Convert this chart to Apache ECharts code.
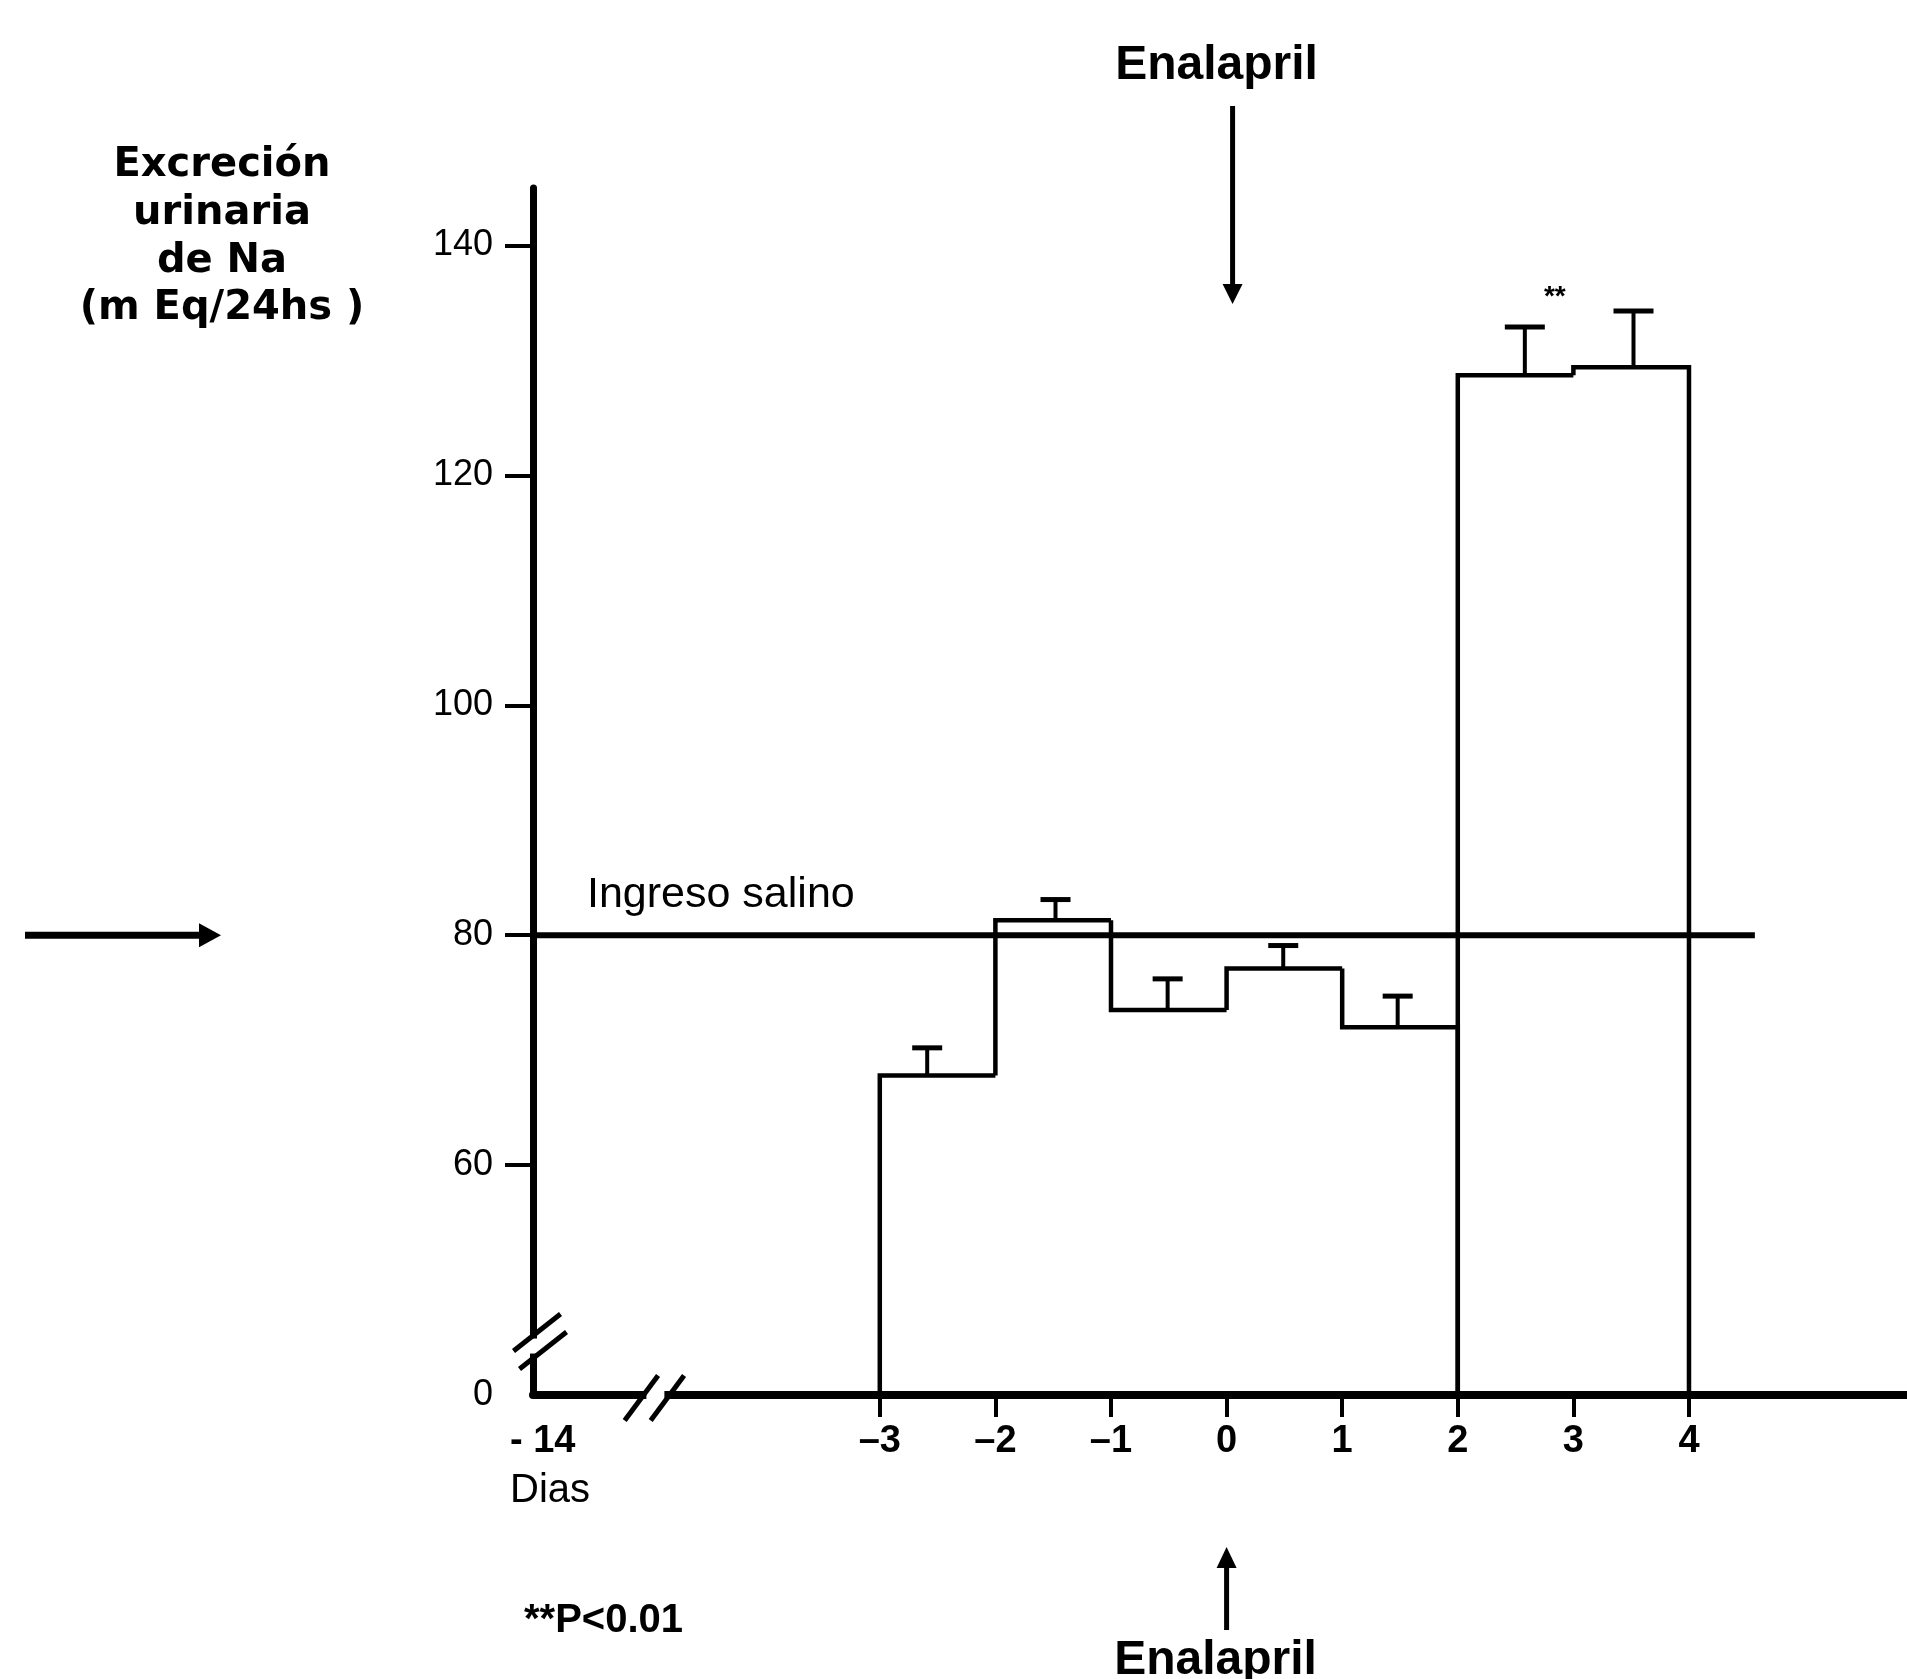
<!DOCTYPE html>
<html>
<head>
<meta charset="utf-8">
<script src="https://cdn.jsdelivr.net/npm/echarts@6/dist/echarts.min.js"></script>
<style>
html,body{margin:0;padding:0;background:#fff;}
#chart{width:1907px;height:1679px;}
</style>
</head>
<body>
<div id="chart"></div>
<script>
// ---------------- DATA ----------------
// Days (intervals) of the 24 h collections
const diaInicio = [-3, -2, -1, 0, 1, 2, 3];
const diaFin    = [-2, -1, 0, 1, 2, 3, 4];
// Urinary Na excretion (mEq/24 h) and its standard error
const excrecionNa = [67.8, 81.3, 73.5, 77.1, 72.0, 128.7, 129.4];
const errorEst    = [2.4, 1.8, 2.7, 2.0, 2.7, 4.2, 4.9];
// Day position at which each error bar is drawn
const errorPosX   = [-2.59, -1.48, -0.51, 0.49, 1.48, 2.58, 3.52];
// true = first day of a new period (pre / post enalapril)
const nuevoBloque = [true, false, false, false, false, true, false];
const significancia = ['', '', '', '', '', '**', ''];
// Salt intake reference line
const ingresoSalino = 80;
const ingresoSalinoRango = [-6, 4.57];
// Axis ticks / labels (axes are broken: plotted -6 = day -14, plotted 40 = 0 mEq)
const xTickValues  = [-3, -2, -1, 0, 1, 2, 3, 4];
const xLabelValues = [-6, -3, -2, -1, 0, 1, 2, 3, 4];
const xLabelTexts  = ['- 14', '–3', '–2', '–1', '0', '1', '2', '3', '4'];
const yTickValues  = [60, 80, 100, 120, 140];
const yLabelValues = [40, 60, 80, 100, 120, 140];
const yLabelTexts  = ['0', '60', '80', '100', '120', '140'];
const yTitulo = ['Excreción', 'urinaria', 'de Na', '(m Eq/24hs )'];
const notaP = '**P<0.01';
const flechaTexto = 'Enalapril';
const diaEnalapril = 0;
const breakY = 44.65;
const breakX = -4.95;

// ---------------- AXES ----------------
const X_MIN = -6, X_MAX = 5.886, Y_MIN = 40, Y_MAX = 145;
const FONT = '"Liberation Sans", Arial, sans-serif';
const BLACK = '#000';

function seg(x1, y1, x2, y2, w) {
  return { type: 'line', shape: { x1, y1, x2, y2 }, style: { stroke: BLACK, lineWidth: w, lineCap: 'butt' } };
}
function txt(text, x, y, size, weight, align, family) {
  return { type: 'text', style: { text, x, y, fill: BLACK, fontSize: size, fontWeight: weight,
    fontFamily: family || FONT, align: align || 'center', verticalAlign: 'middle' } };
}

const barData = diaInicio.map((d, i) => [d, diaFin[i], excrecionNa[i], errorEst[i], errorPosX[i]]);

function renderBar(params, api) {
  const i = params.dataIndex;
  const n = excrecionNa.length;
  const x0 = api.value(0), x1 = api.value(1), v = api.value(2), e = api.value(3), ex = api.value(4);
  const pL = api.coord([x0, v]);
  const pR = api.coord([x1, v]);
  const baseY = api.coord([x0, Y_MIN])[1];
  const startY = nuevoBloque[i] ? baseY : api.coord([x0, excrecionNa[i - 1]])[1];
  const last = (i === n - 1) || nuevoBloque[i + 1];
  const pts = [[pL[0], startY], pL, pR];
  if (last) pts.push([pR[0], baseY]);
  const children = [{
    type: 'polyline', shape: { points: pts },
    style: { stroke: BLACK, lineWidth: 4.5, fill: null, lineJoin: 'miter' }
  }];
  let periodo = 0;
  for (let k = 1; k <= i; k++) if (nuevoBloque[k]) periodo++;
  const half = periodo > 0 ? 20 : 15;
  const e0 = api.coord([ex, v]);
  const e1 = api.coord([ex, v + e]);
  children.push(seg(e0[0], e0[1], e1[0], e1[1], 4));
  children.push(seg(e1[0] - half, e1[1], e1[0] + half, e1[1], 5));
  if (significancia[i]) {
    children.push(txt(significancia[i], e1[0] + 30, e1[1] - 30, 28, 'bold'));
  }
  return { type: 'group', children };
}

function renderIngreso(params, api) {
  const a = api.coord([api.value(0), api.value(2)]);
  const b = api.coord([api.value(1), api.value(2)]);
  return { type: 'group', children: [
    seg(a[0], a[1], b[0], b[1], 6),
    txt('Ingreso salino', a[0] + 54, a[1] - 40, 43, 'normal', 'left')
  ]};
}

function renderDecor(params, api) {
  const top = api.coord([diaEnalapril, Y_MAX]);
  const base = api.coord([diaEnalapril, Y_MIN]);
  const org = api.coord([X_MIN, Y_MIN]);
  const yb = api.coord([X_MIN, breakY]);
  const xb = api.coord([breakX, Y_MIN]);
  const a80 = api.coord([X_MIN, ingresoSalino]);
  const ch = [];
  // y-axis break
  ch.push({ type: 'rect', shape: { x: yb[0] - 7, y: yb[1] - 3, width: 14, height: 15 }, style: { fill: '#fff' } });
  ch.push(seg(yb[0] + 4 - 23.5, yb[1] - 9 + 18.5, yb[0] + 4 + 23.5, yb[1] - 9 - 18.5, 5));
  ch.push(seg(yb[0] + 10 - 23.5, yb[1] + 9 + 18.5, yb[0] + 10 + 23.5, yb[1] + 9 - 18.5, 5));
  // x-axis break
  ch.push({ type: 'rect', shape: { x: xb[0] - 8, y: xb[1] - 6, width: 18, height: 12 }, style: { fill: '#fff' } });
  ch.push(seg(xb[0] - 13 - 16.7, xb[1] + 3 + 22.5, xb[0] - 13 + 16.7, xb[1] + 3 - 22.5, 5));
  ch.push(seg(xb[0] + 13 - 16.7, xb[1] + 3 + 22.5, xb[0] + 13 + 16.7, xb[1] + 3 - 22.5, 5));
  // top Enalapril arrow
  const tx = top[0] + 6;
  ch.push(seg(tx, top[1] - 82, tx, top[1] + 100, 5));
  ch.push({ type: 'polygon', shape: { points: [[tx - 10, top[1] + 96], [tx + 10, top[1] + 96], [tx, top[1] + 116]] }, style: { fill: BLACK } });
  ch.push(txt(flechaTexto, top[0] - 10, top[1] - 122, 48, 'bold'));
  // bottom Enalapril arrow
  const bx = base[0];
  ch.push(seg(bx, base[1] + 166, bx, base[1] + 235, 5));
  ch.push({ type: 'polygon', shape: { points: [[bx - 10, base[1] + 173], [bx + 10, base[1] + 173], [bx, base[1] + 152]] }, style: { fill: BLACK } });
  ch.push(txt(flechaTexto, bx - 11, base[1] + 265.4, 48, 'bold'));
  // left arrow at salt intake level
  ch.push(seg(a80[0] - 508, a80[1], a80[0] - 328, a80[1], 7));
  ch.push({ type: 'polygon', shape: { points: [[a80[0] - 334, a80[1] - 12], [a80[0] - 334, a80[1] + 12], [a80[0] - 312, a80[1]]] }, style: { fill: BLACK } });
  // y axis title
  const offs = [-9, 39, 87, 134];
  yTitulo.forEach((t, k) => {
    ch.push(txt(t, org[0] - 311, top[1] + offs[k] - 13.8, 40, 'bold', 'center', '"DejaVu Sans", sans-serif'));
  });
  // footnote
  ch.push(txt(notaP, org[0] - 9, base[1] + 226, 40, 'bold', 'left'));
  return { type: 'group', children: ch };
}

const chart = echarts.init(document.getElementById('chart'), null, { renderer: 'canvas' });
chart.setOption({
  animation: false,
  backgroundColor: '#fff',
  grid: { left: 533, right: 0, top: 188, bottom: 284, containLabel: false, outerBoundsMode: 'none' },
  xAxis: {
    type: 'value', min: X_MIN, max: X_MAX, interval: 1,
    axisLine: { onZero: false, lineStyle: { color: BLACK, width: 8 } },
    axisTick: { show: true, customValues: xTickValues, length: 22, lineStyle: { color: BLACK, width: 4 } },
    axisLabel: {
      customValues: xLabelValues, color: BLACK, fontSize: 38, fontWeight: 'bold', fontFamily: FONT,
      margin: 22, lineHeight: 49,
      formatter: function (val) {
        const k = xLabelValues.indexOf(val);
        if (val === X_MIN) return '{a|' + xLabelTexts[k] + '}\n{b|Dias}';
        return k >= 0 ? xLabelTexts[k] : '';
      },
      rich: {
        a: { fontSize: 38, fontWeight: 'bold', fontFamily: FONT, color: BLACK, lineHeight: 49, align: 'left', padding: [0, 0, 0, 34] },
        b: { fontSize: 40, fontWeight: 'normal', fontFamily: FONT, color: BLACK, lineHeight: 49, align: 'left', padding: [0, 0, 0, 34] }
      }
    },
    splitLine: { show: false }
  },
  yAxis: {
    type: 'value', min: Y_MIN, max: Y_MAX, interval: 20,
    axisLine: { show: true, onZero: false, lineStyle: { color: BLACK, width: 7 } },
    axisTick: { show: true, customValues: yTickValues, length: 28, lineStyle: { color: BLACK, width: 4 } },
    axisLabel: {
      customValues: yLabelValues, color: BLACK, fontSize: 36, fontFamily: FONT, margin: 40,
      formatter: function (val) {
        const k = yLabelValues.indexOf(val);
        return k >= 0 ? yLabelTexts[k] : '';
      }
    },
    splitLine: { show: false }
  },
  series: [
    {
      name: 'Ingreso salino', type: 'custom', clip: false, z: 3,
      encode: { x: [0, 1], y: 2 },
      data: [[ingresoSalinoRango[0], ingresoSalinoRango[1], ingresoSalino]],
      renderItem: renderIngreso
    },
    {
      name: 'Excreción urinaria de Na', type: 'custom', clip: false, z: 4,
      encode: { x: [0, 1, 4], y: [2, 3] },
      data: barData,
      renderItem: renderBar
    },
    {
      name: 'anotaciones', type: 'custom', clip: false, z: 5, silent: true,
      encode: { x: 0, y: 1 },
      data: [[diaEnalapril, ingresoSalino]],
      renderItem: renderDecor
    }
  ]
});
</script>
</body>
</html>
